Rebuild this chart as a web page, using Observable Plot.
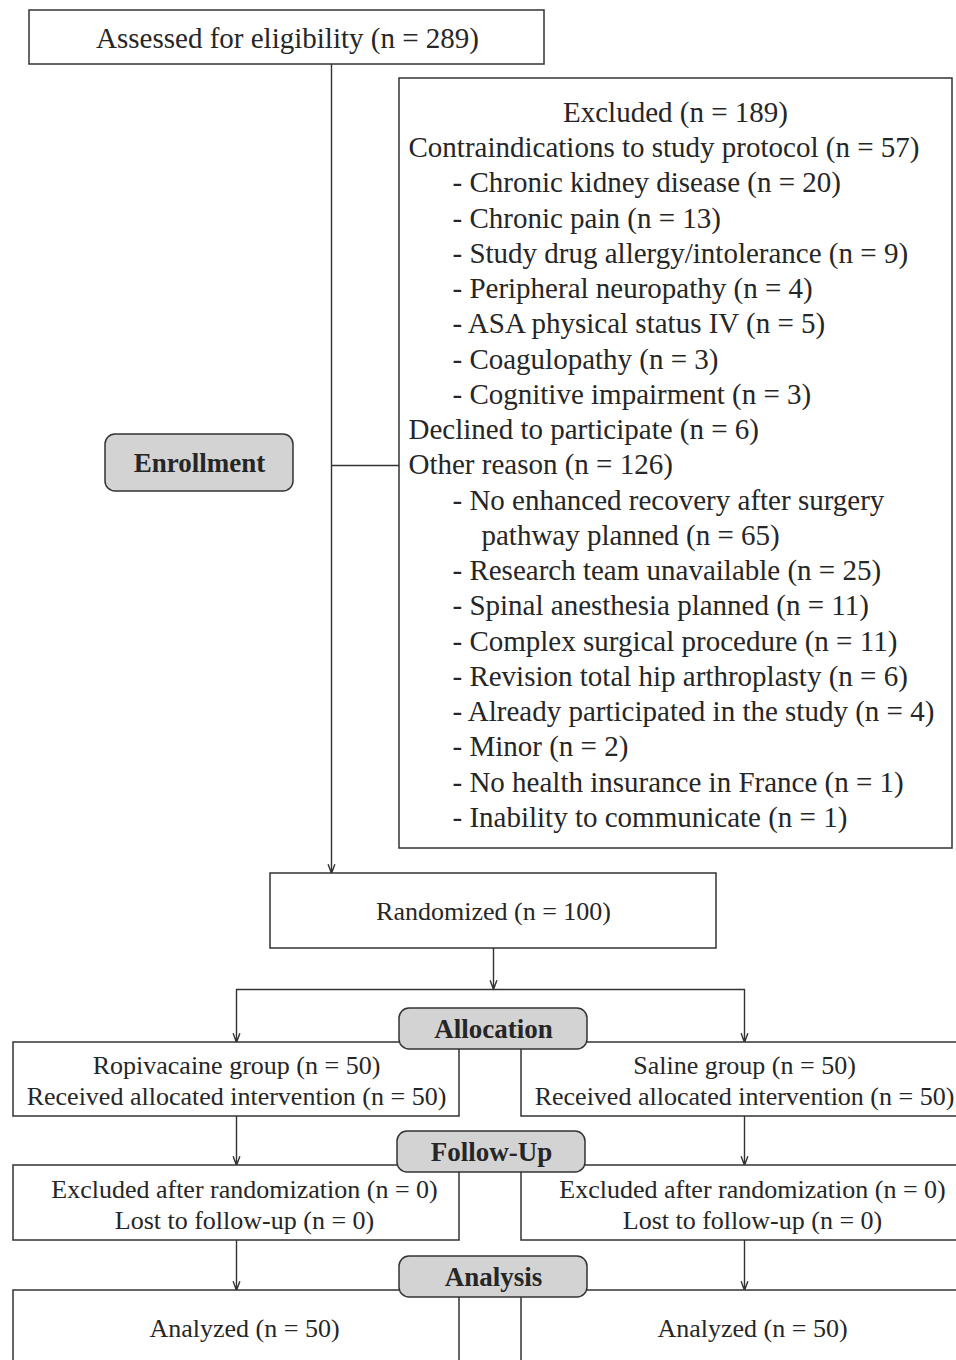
<!DOCTYPE html>
<html><head><meta charset="utf-8">
<script src="https://cdn.jsdelivr.net/npm/d3@7"></script>
<script src="https://cdn.jsdelivr.net/npm/@observablehq/plot@0.6"></script>
<style>body{margin:0;background:#fff;overflow:hidden} svg{display:block}</style>
</head><body><div id="chart"></div>
<script>
// ---------- DATA (text content) ----------
const assessedLabel = "Assessed for eligibility (n = 289)";
const excludedLines = [
  "Excluded (n = 189)",
  "Contraindications to study protocol (n = 57)",
  "- Chronic kidney disease (n = 20)",
  "- Chronic pain (n = 13)",
  "- Study drug allergy/intolerance (n = 9)",
  "- Peripheral neuropathy (n = 4)",
  "- ASA physical status IV (n = 5)",
  "- Coagulopathy (n = 3)",
  "- Cognitive impairment (n = 3)",
  "Declined to participate (n = 6)",
  "Other reason (n = 126)",
  "- No enhanced recovery after surgery",
  "pathway planned (n = 65)",
  "- Research team unavailable (n = 25)",
  "- Spinal anesthesia planned (n = 11)",
  "- Complex surgical procedure (n = 11)",
  "- Revision total hip arthroplasty (n = 6)",
  "- Already participated in the study (n = 4)",
  "- Minor (n = 2)",
  "- No health insurance in France (n = 1)",
  "- Inability to communicate (n = 1)"
];
const excludedLevels = [0,1,2,2,2,2,2,2,2,1,1,2,3,2,2,2,2,2,2,2,2];
const randomizedLabel = "Randomized (n = 100)";
const stageLabels = ["Enrollment", "Allocation", "Follow-Up", "Analysis"];
const arms = ["Ropivacaine", "Saline"];
const allocationText = [
  ["Ropivacaine group (n = 50)", "Received allocated intervention (n = 50)"],
  ["Saline group (n = 50)", "Received allocated intervention (n = 50)"]
];
const followUpText = [
  ["Excluded after randomization (n = 0)", "Lost to follow-up (n = 0)"],
  ["Excluded after randomization (n = 0)", "Lost to follow-up (n = 0)"]
];
const analysisText = [
  ["Analyzed (n = 50)"],
  ["Analyzed (n = 50)"]
];

// ---------- LAYOUT ----------
const W = 956, H = 1360;
const armBox = [{x1: 13, x2: 459, c: 236, c2: 244}, {x1: 521, x2: 958, c: 744, c2: 752}];
const stageRows = [
  {y1: 1042, y2: 1116, lines: [1065, 1096], texts: allocationText, key: "c"},
  {y1: 1165, y2: 1240, lines: [1189, 1220], texts: followUpText, key: "c2"},
  {y1: 1290, y2: 1372, lines: [1328], texts: analysisText, key: "c2"}
];
const boxes = [
  {x1: 29, x2: 544, y1: 10, y2: 64},
  {x1: 399, x2: 952, y1: 78, y2: 848},
  {x1: 270, x2: 716, y1: 873, y2: 948}
];
stageRows.forEach(r => armBox.forEach(a => boxes.push({x1: a.x1, x2: a.x2, y1: r.y1, y2: r.y2})));
const pills = [
  {x1: 105, x2: 293, y1: 434, y2: 491, cx: 199, cy: 463},
  {x1: 399, x2: 587, y1: 1008, y2: 1049, cx: 493, cy: 1029},
  {x1: 397, x2: 585, y1: 1131, y2: 1172, cx: 491, cy: 1152},
  {x1: 399, x2: 587, y1: 1256, y2: 1297, cx: 493, cy: 1277}
].map((p, i) => ({...p, label: stageLabels[i]}));

const levelX = [null, 408, 452, 481];
const lineStep = 35.25, firstLineY = 112;
const exclCenter = {x: 675};
const excl = excludedLines.map((t, i) => ({text: t, level: excludedLevels[i], y: firstLineY + i * lineStep}));

const plainLinks = [
  {x1: 331, y1: 465, x2: 399, y2: 465},
  {x1: 236, y1: 989, x2: 744, y2: 989}
];
const arrows = [
  {x1: 331, y1: 64, x2: 331, y2: 873},
  {x1: 493, y1: 948, x2: 493, y2: 989},
  {x1: 236, y1: 989, x2: 236, y2: 1042},
  {x1: 744, y1: 989, x2: 744, y2: 1042},
  {x1: 236, y1: 1116, x2: 236, y2: 1165},
  {x1: 744, y1: 1116, x2: 744, y2: 1165},
  {x1: 236, y1: 1240, x2: 236, y2: 1290},
  {x1: 744, y1: 1240, x2: 744, y2: 1290}
];

const armTexts = [];
stageRows.forEach(r => r.texts.forEach((lines, ai) => lines.forEach((t, li) =>
  armTexts.push({text: t, x: armBox[ai][r.key], y: r.lines[li]}))));

const ink = "#262626", line = "#333";
const FONT = "'Liberation Serif', 'DejaVu Serif', serif";

const chart = Plot.plot({
  width: W, height: H,
  margin: 0,
  x: {domain: [0, W], axis: null},
  y: {domain: [0, H], reverse: true, axis: null},
  style: {fontFamily: FONT, background: "#fff"},
  marks: [
    Plot.link(plainLinks, {x1: "x1", y1: "y1", x2: "x2", y2: "y2", stroke: line, strokeWidth: 1.4}),
    Plot.arrow(arrows, {x1: "x1", y1: "y1", x2: "x2", y2: "y2", stroke: line, strokeWidth: 1.4, headLength: 10, headAngle: 40}),
    Plot.rect(boxes, {x1: "x1", x2: "x2", y1: "y1", y2: "y2", fill: "#fff", stroke: line, strokeWidth: 1.5}),
    Plot.text([assessedLabel], {x: 287, y: 38, text: d => d, fontSize: 29, fill: ink}),
    Plot.text(excl.filter(d => d.level === 0), {x: exclCenter.x, y: "y", text: "text", fontSize: 29, fill: ink}),
    Plot.text(excl.filter(d => d.level > 0), {x: d => levelX[d.level], y: "y", text: "text", textAnchor: "start", fontSize: 29, fill: ink}),
    Plot.text([randomizedLabel], {x: 493, y: 911, text: d => d, fontSize: 26, fill: ink}),
    Plot.text(armTexts, {x: "x", y: "y", text: "text", fontSize: 26, fill: ink}),
    Plot.rect(pills, {x1: "x1", x2: "x2", y1: "y1", y2: "y2", rx: 10, fill: "#d3d3d3", stroke: line, strokeWidth: 1.5}),
    Plot.text(pills, {x: "cx", y: "cy", text: "label", fontSize: 27, fontWeight: "bold", fill: ink})
  ]
});
document.getElementById("chart").appendChild(chart);
</script>
</body></html>
